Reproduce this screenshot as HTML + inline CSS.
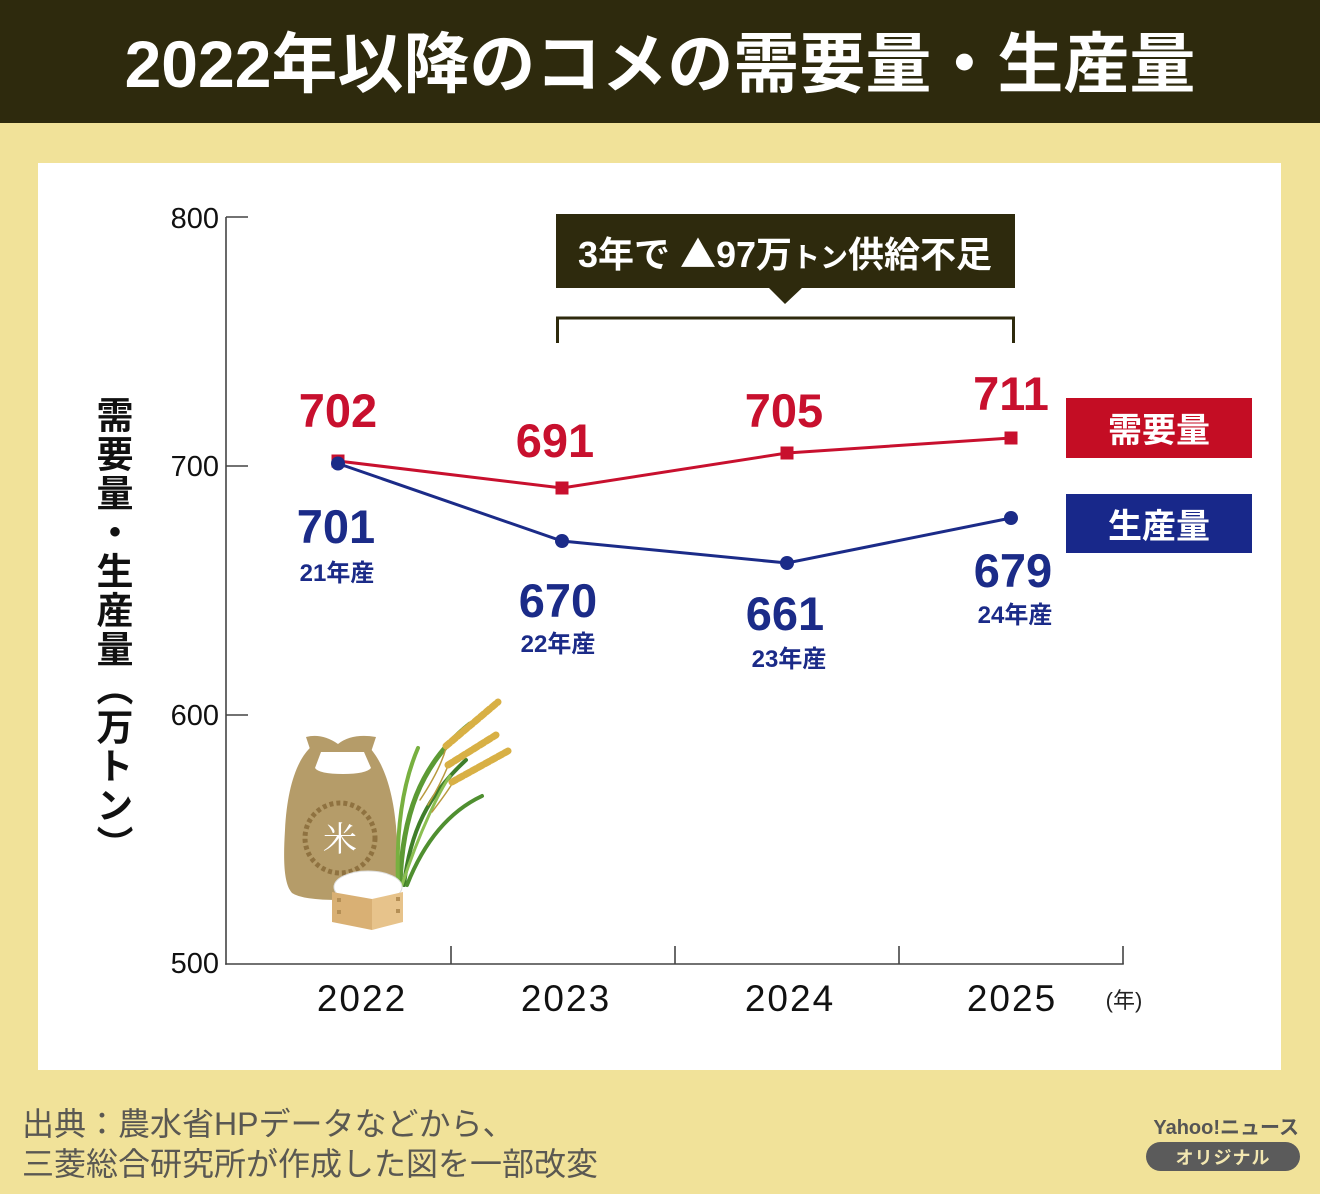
<!DOCTYPE html>
<html lang="ja">
<head>
<meta charset="utf-8">
<style>
  html,body{margin:0;padding:0;}
  body{width:1320px;height:1194px;position:relative;overflow:hidden;background:#f1e299;
    font-family:"Liberation Sans","Noto Sans CJK JP",sans-serif;}
  svg{position:absolute;left:0;top:0;}
  .ytitle{position:absolute;left:95px;top:396px;width:40px;writing-mode:vertical-rl;
    font-family:"Noto Sans CJK JP",sans-serif;font-weight:700;font-size:37px;line-height:40px;color:#111;letter-spacing:2px;}
</style>
</head>
<body>
<svg width="1320" height="1194" viewBox="0 0 1320 1194" xmlns="http://www.w3.org/2000/svg"
     font-family="Liberation Sans, Noto Sans CJK JP, sans-serif">
  <!-- title bar -->
  <rect x="0" y="0" width="1320" height="123" fill="#2e2a0d"/>
  <text x="660" y="87" text-anchor="middle" fill="#ffffff" font-size="66" font-weight="700">2022年以降のコメの需要量・生産量</text>

  <!-- card -->
  <rect x="38" y="163" width="1243" height="907" fill="#ffffff"/>

  <!-- annotation -->
  <rect x="556" y="214" width="459" height="74" fill="#2e2a0d"/>
  <polygon points="768,287 803,287 785,304" fill="#2e2a0d"/>
  <text x="785" y="267" text-anchor="middle" fill="#ffffff" font-size="36" font-weight="700">3年で <tspan font-family="Noto Sans CJK JP, sans-serif">▲</tspan>97万<tspan font-size="28">トン</tspan>供給不足</text>
  <path d="M557.5,343 V318 H1013.5 V343" fill="none" stroke="#2e2a0d" stroke-width="3"/>

  <!-- axes -->
  <g stroke="#444" stroke-width="1.6" fill="none">
    <line x1="226" y1="217" x2="226" y2="964.8"/>
    <line x1="225.2" y1="964" x2="1123.8" y2="964"/>
    <line x1="226" y1="217" x2="248" y2="217"/>
    <line x1="226" y1="466" x2="248" y2="466"/>
    <line x1="226" y1="715" x2="248" y2="715"/>
    <line x1="451" y1="946" x2="451" y2="964"/>
    <line x1="675" y1="946" x2="675" y2="964"/>
    <line x1="899" y1="946" x2="899" y2="964"/>
    <line x1="1123" y1="946" x2="1123" y2="964"/>
  </g>
  <g font-size="29" fill="#111" text-anchor="end">
    <text x="219" y="228">800</text>
    <text x="219" y="476">700</text>
    <text x="219" y="725">600</text>
    <text x="219" y="973">500</text>
  </g>
  <g font-size="37" fill="#111" text-anchor="middle" letter-spacing="2">
    <text x="362" y="1011">2022</text>
    <text x="566" y="1011">2023</text>
    <text x="790" y="1011">2024</text>
    <text x="1012" y="1011">2025</text>
  </g>
  <text x="1124" y="1008" text-anchor="middle" font-size="22" fill="#222">(年)</text>

  <!-- illustration -->
  <g>
    <!-- bag -->
    <path d="M312,746 C296,760 287,790 285,830 C283,862 284,884 292,893 Q302,900 340,900 Q384,900 391,893 C398,882 398,852 396,826 C393,792 384,762 368,746 Z" fill="#b59c69"/>
    <path d="M306,737 Q322,733 338,744 Q352,733 376,737 L371,752 L311,752 Z" fill="#b59c69"/>
    <path d="M321,752 L364,752 L371,768 Q366,774 343,774 Q319,774 315,768 Z" fill="#ffffff"/>
    <circle cx="340" cy="838" r="35" fill="none" stroke="#8f7240" stroke-width="5" stroke-dasharray="4 3"/>
    <text x="340" y="851" text-anchor="middle" fill="#ffffff" font-size="34" font-family="Noto Serif CJK SC, Noto Sans CJK JP, serif">米</text>
    <!-- plant -->
    <g fill="none" stroke-linecap="round">
      <path d="M400,885 C402,820 418,765 470,724" stroke="#5c9a34" stroke-width="5"/>
      <path d="M404,885 C410,832 428,795 466,760" stroke="#3f7e2a" stroke-width="4"/>
      <path d="M398,885 C396,830 402,785 418,748" stroke="#78b040" stroke-width="4"/>
      <path d="M407,885 C424,842 448,812 482,796" stroke="#4f8f30" stroke-width="4"/>
      <path d="M402,885 C420,830 440,790 450,776" stroke="#8bbf52" stroke-width="3"/>
      <path d="M420,800 Q440,770 446,748" stroke="#b99a3f" stroke-width="1.5"/>
      <path d="M428,805 Q440,785 448,766" stroke="#b99a3f" stroke-width="1.5"/>
      <path d="M432,812 Q445,795 452,784" stroke="#b99a3f" stroke-width="1.5"/>
      <path d="M446,746 L498,702" stroke="#d8b045" stroke-width="7" stroke-dasharray="5 2.5"/>
      <path d="M448,765 L496,735" stroke="#d8b045" stroke-width="7" stroke-dasharray="5 2.5"/>
      <path d="M452,782 L508,751" stroke="#d8b045" stroke-width="7" stroke-dasharray="5 2.5"/>
    </g>
    <!-- masu -->
    <ellipse cx="368" cy="887" rx="34" ry="16" fill="#ffffff" stroke="#dddddd" stroke-width="1"/>
    <polygon points="332,892 372,899 372,930 332,922" fill="#d9b074"/>
    <polygon points="372,899 403,892 403,922 372,930" fill="#e7c38b"/>
    <g fill="#b58f55">
      <rect x="337" y="898" width="4" height="4"/><rect x="337" y="910" width="4" height="4"/>
      <rect x="396" y="897" width="4" height="4"/><rect x="396" y="909" width="4" height="4"/>
    </g>
  </g>

  <!-- series lines -->
  <polyline points="338,461 562,488 787,453 1011,438" fill="none" stroke="#c8102e" stroke-width="3"/>
  <g fill="#c8102e">
    <rect x="331.5" y="454.5" width="13" height="13"/>
    <rect x="555.5" y="481.5" width="13" height="13"/>
    <rect x="780.5" y="446.5" width="13" height="13"/>
    <rect x="1004.5" y="431.5" width="13" height="13"/>
  </g>
  <polyline points="338,463.5 562,541 787,563 1011,518" fill="none" stroke="#1b2b88" stroke-width="3"/>
  <g fill="#1b2b88">
    <circle cx="338" cy="463.5" r="7"/>
    <circle cx="562" cy="541" r="7"/>
    <circle cx="787" cy="563" r="7"/>
    <circle cx="1011" cy="518" r="7"/>
  </g>

  <!-- value labels -->
  <g font-size="47" font-weight="700" fill="#c8102e" text-anchor="middle">
    <text x="338" y="427">702</text>
    <text x="555" y="457">691</text>
    <text x="784" y="427">705</text>
    <text x="1011" y="410">711</text>
  </g>
  <g font-size="47" font-weight="700" fill="#1b2b88" text-anchor="middle">
    <text x="336" y="543">701</text>
    <text x="558" y="617">670</text>
    <text x="785" y="630">661</text>
    <text x="1013" y="587">679</text>
  </g>
  <g font-size="24" font-weight="700" fill="#1b2b88" text-anchor="middle">
    <text x="337" y="581">21年産</text>
    <text x="558" y="652">22年産</text>
    <text x="789" y="667">23年産</text>
    <text x="1015" y="623">24年産</text>
  </g>

  <!-- legend -->
  <rect x="1066" y="398" width="186" height="60" fill="#c40d24"/>
  <text x="1159" y="442" text-anchor="middle" fill="#ffffff" font-size="34" font-weight="700">需要量</text>
  <rect x="1066" y="494" width="186" height="59" fill="#18288a"/>
  <text x="1159" y="538" text-anchor="middle" fill="#ffffff" font-size="34" font-weight="700">生産量</text>

  <!-- footer -->
  <g font-size="32" fill="#5a5852">
    <text x="22" y="1135">出典：農水省HPデータなどから、</text>
    <text x="22" y="1175">三菱総合研究所が作成した図を一部改変</text>
  </g>
  <text x="1299" y="1134" text-anchor="end" font-size="20" font-weight="700" fill="#555555">Yahoo!ニュース</text>
  <rect x="1146" y="1142" width="154" height="29" rx="14.5" fill="#5b5b5b"/>
  <text x="1223" y="1164" text-anchor="middle" font-size="18" font-weight="700" fill="#f3e7b0" letter-spacing="1">オリジナル</text>
</svg>
<div class="ytitle">需要量・生産量（万トン）</div>
</body>
</html>
